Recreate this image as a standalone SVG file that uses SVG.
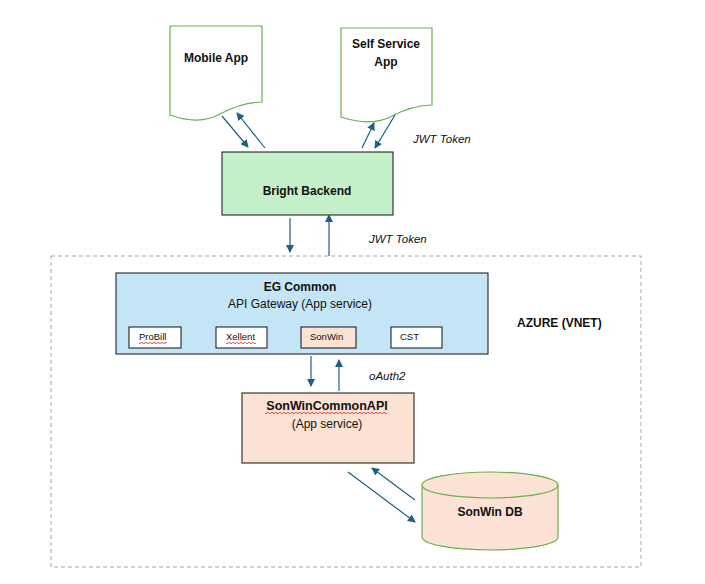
<svg xmlns="http://www.w3.org/2000/svg" width="705" height="584" viewBox="0 0 705 584">
<defs>
<marker id="ah" markerWidth="8" markerHeight="8" refX="7" refY="4" orient="auto" markerUnits="userSpaceOnUse">
<path d="M0,0 L8,4 L0,8 Z" fill="#1F5F7F"/>
</marker>
</defs>
<style>
text{font-family:"Liberation Sans",Arial,sans-serif;fill:#111}
.b{font-weight:bold;font-size:12px}
.n{font-size:12px}
.i{font-style:italic;font-size:11.5px}
.s{font-size:9.5px}
.doc{fill:#fff;stroke:#6AB04C;stroke-width:1.2}
.con line{stroke:#1F5F7F;stroke-width:1.2;marker-end:url(#ah)}
.sq{fill:none;stroke:#E02020;stroke-width:0.8}
</style>
<rect width="705" height="584" fill="#fff"/>
<g id="azure">
<rect x="51" y="256" width="590" height="311" fill="none" stroke="#A6A6A6" stroke-dasharray="4,3"/>
<text class="b" x="517" y="327">AZURE (VNET)</text>
</g>
<g id="mobile">
<path class="doc" d="M170,26 H262 V102 C248,102 235,106 220,114 C205,122 190,122 170,115 Z"/>
<text class="b" x="216" y="62" text-anchor="middle">Mobile App</text>
</g>
<g id="selfservice">
<path class="doc" d="M341,28 H432 V105 C418,105 405,109 390,117 C375,124 360,123 341,117 Z"/>
<text class="b" x="386" y="48" text-anchor="middle">Self Service</text>
<text class="b" x="386" y="66" text-anchor="middle">App</text>
</g>
<g id="backend">
<rect x="222" y="152" width="171" height="63" fill="#C3F0C9" stroke="#111"/>
<text class="b" x="307" y="195" text-anchor="middle">Bright Backend</text>
</g>
<g id="egcommon">
<rect x="116" y="273" width="372" height="81" fill="#C3E5F5" stroke="#111"/>
<text class="b" x="300" y="291" text-anchor="middle">EG Common</text>
<text class="n" x="300" y="308" text-anchor="middle">API Gateway (App service)</text>
<g id="probill"><rect x="129" y="327" width="52" height="21" fill="#fff" stroke="#111"/><text class="s" x="139" y="340">ProBill</text><path class="sq" d="M139,343 q1,1.5 2,0 t2,0 t2,0 t2,0 t2,0 t2,0 t2,0 t2,0 t2,0 t2,0 t2,0 t2,0 t2,0 t2,0"/></g>
<g id="xellent"><rect x="216" y="327" width="51" height="21" fill="#fff" stroke="#111"/><text class="s" x="226" y="340">Xellent</text><path class="sq" d="M226,343 q1,1.5 2,0 t2,0 t2,0 t2,0 t2,0 t2,0 t2,0 t2,0 t2,0 t2,0 t2,0 t2,0 t2,0 t2,0 t2,0"/></g>
<g id="sonwin"><rect x="301" y="327" width="55" height="21" fill="#FBE2D5" stroke="#111"/><text class="s" x="310" y="340">SonWin</text></g>
<g id="cst"><rect x="391" y="327" width="51" height="21" fill="#fff" stroke="#111"/><text class="s" x="400" y="340">CST</text></g>
</g>
<g id="sonwinapi">
<rect x="242" y="393" width="172" height="70" fill="#FBE2D5" stroke="#111"/>
<text class="b" x="327" y="410" text-anchor="middle" style="font-size:12.5px">SonWinCommonAPI</text>
<path class="sq" d="M265,413 q1,1.5 2,0 t2,0 t2,0 t2,0 t2,0 t2,0 t2,0 t2,0 t2,0 t2,0 t2,0 t2,0 t2,0 t2,0 t2,0 t2,0 t2,0 t2,0 t2,0 t2,0 t2,0 t2,0 t2,0 t2,0 t2,0 t2,0 t2,0 t2,0 t2,0 t2,0 t2,0 t2,0 t2,0 t2,0 t2,0 t2,0 t2,0 t2,0 t2,0 t2,0 t2,0 t2,0 t2,0 t2,0 t2,0 t2,0 t2,0 t2,0 t2,0 t2,0 t2,0 t2,0 t2,0 t2,0 t2,0 t2,0 t2,0 t2,0 t2,0 t2,0 t2,0"/>
<text class="n" x="327" y="428" text-anchor="middle">(App service)</text>
</g>
<g id="db">
<path d="M422,485 V537 A68,13 0 0 0 558,537 V485" fill="#FBE2D5" stroke="#6AB04C" stroke-width="1.2"/>
<ellipse cx="490" cy="485" rx="68" ry="13" fill="#FBE2D5" stroke="#6AB04C" stroke-width="1.2"/>
<text class="b" x="490" y="516" text-anchor="middle">SonWin DB</text>
</g>
<g id="connectors" class="con">
<line x1="222" y1="116" x2="248" y2="147"/>
<line x1="265" y1="148" x2="237" y2="113"/>
<line x1="362" y1="148" x2="374" y2="123"/>
<line x1="395" y1="115" x2="375" y2="148"/>
<line x1="290" y1="218" x2="290" y2="252"/>
<line x1="329" y1="256" x2="329" y2="215"/>
<line x1="311" y1="356" x2="311" y2="386"/>
<line x1="339" y1="391" x2="339" y2="360"/>
<line x1="348" y1="472" x2="415" y2="522"/>
<line x1="415" y1="500" x2="372" y2="468"/>
</g>
<g id="labels">
<text class="i" x="413" y="143">JWT Token</text>
<text class="i" x="369" y="243">JWT Token</text>
<text class="i" x="369" y="380">oAuth2</text>
</g>
</svg>
